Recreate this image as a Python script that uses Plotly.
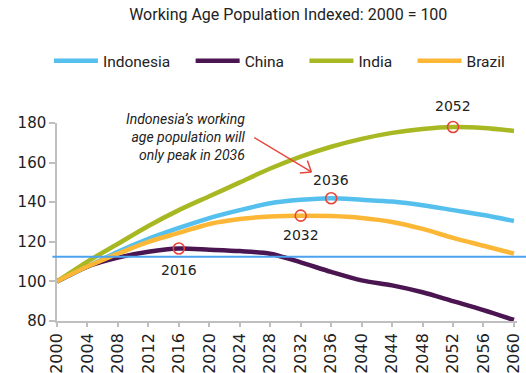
import plotly.graph_objects as go

# Working-age population, indexed to 2000 = 100
years = [2000, 2004, 2008, 2012, 2016, 2020, 2024, 2028, 2032, 2036, 2040, 2044, 2048, 2052, 2056, 2060]
indonesia = [100, 107.5, 115, 121.5, 127, 132, 136, 139.5, 141.2, 142, 141.2, 140.3, 138.5, 136, 133.5, 130.5]
china = [100, 107.5, 112, 115, 116.6, 116, 115.3, 114, 109.6, 104.8, 100.5, 98, 94.5, 90, 85.5, 80.5]
india = [100, 110, 119, 128, 136, 143, 150, 157, 163, 168, 172, 175, 177, 178, 177.5, 176]
brazil = [100, 107.5, 114, 120, 124.5, 129, 131.5, 132.8, 133.2, 133, 132, 130, 126.5, 122, 118, 114]

series_names = ["Indonesia", "China", "India", "Brazil"]
series_values = [indonesia, china, india, brazil]
series_colors = ["#55C0EE", "#4A1550", "#A8B823", "#FDB736"]

# Peak year for each series, with the label placed above or below the marker
peaks = [("China", 2016, -21), ("Brazil", 2032, -19), ("Indonesia", 2036, 18), ("India", 2052, 21)]
reference_level = 112.4

x_ticks = list(range(2000, 2061, 4))
y_ticks = [80, 100, 120, 140, 160, 180]

fig = go.Figure()

pad = "\u00a0" * 4
for i, (name, vals, col) in enumerate(zip(series_names, series_values, series_colors)):
    label = name + (pad if i < len(series_names) - 1 else "")
    fig.add_trace(go.Scatter(
        x=years, y=vals, name=label, mode="lines",
        line=dict(color=col, width=4.5, shape="spline", smoothing=0.8),
        hoverinfo="skip",
    ))

# Horizontal reference line across the plot
fig.add_shape(type="line", xref="paper", yref="y", x0=-0.01, x1=1.03,
              y0=reference_level, y1=reference_level,
              line=dict(color="#4DA2F0", width=2), layer="above")

lookup = dict(zip(series_names, series_values))
px_ = [p[1] for p in peaks]
py_ = [lookup[p[0]][years.index(p[1])] for p in peaks]
fig.add_trace(go.Scatter(
    x=px_, y=py_, mode="markers", showlegend=False, hoverinfo="skip",
    marker=dict(size=11, color="rgba(0,0,0,0)", line=dict(color="#E8463C", width=1.6)),
    cliponaxis=False,
))
for (name, yr, shift), yv in zip(peaks, py_):
    fig.add_annotation(x=yr, y=yv, text=str(yr), showarrow=False, yshift=shift,
                       font=dict(family="DejaVu Sans", size=14, color="#222222"))

# Callout text and arrow
fig.add_annotation(
    x=2024.9, y=180, xref="x", yref="y", xanchor="right", yanchor="top",
    align="right", showarrow=False, yshift=14,
    text="<i>Indonesia’s working<br>age population will<br>only peak in 2036</i>",
    font=dict(family="Roboto", size=14, color="#222222"),
)
tip_x, tip_y = 2033.4, 155.3
fig.add_annotation(
    x=tip_x, y=tip_y, ax=2025.7, ay=173.1, xref="x", yref="y", axref="x", ayref="y",
    text="", showarrow=True, arrowhead=0, arrowwidth=1.5, arrowcolor="#E8463C",
)
for dx, dy in [(-4, 11.5), (-11.5, -1)]:
    fig.add_shape(type="line", xref="x", yref="y", xsizemode="pixel", ysizemode="pixel",
                  xanchor=tip_x, yanchor=tip_y, x0=0, y0=0, x1=dx, y1=dy,
                  line=dict(color="#E8463C", width=1.5))

fig.update_layout(
    width=526, height=373,
    margin=dict(l=57, r=9, t=123, b=52),
    paper_bgcolor="white", plot_bgcolor="white",
    title=dict(text="Working Age Population Indexed: 2000 = 100", x=0.548, xanchor="center",
               y=0.962, yanchor="middle",
               font=dict(family="Roboto", size=16, color="#222222")),
    legend=dict(orientation="h", x=0.093, xref="container", xanchor="left",
                y=0.836, yref="container", yanchor="middle",
                itemwidth=44, traceorder="normal",
                font=dict(family="Roboto", size=15.5, color="#222222"),
                bgcolor="rgba(0,0,0,0)"),
    showlegend=True,
)

fig.update_xaxes(range=[2000, 2060.4], tickvals=x_ticks, ticktext=[str(t) for t in x_ticks],
                 tickangle=-90, showgrid=False, zeroline=False, automargin=False,
                 showline=True, linecolor="#BFBFBF", linewidth=1.5,
                 ticks="outside", ticklen=4, tickcolor="#BFBFBF", tickwidth=1.5,
                 tickfont=dict(family="DejaVu Sans", size=16, color="#222222"))
fig.update_yaxes(range=[80, 180], tickvals=y_ticks, showgrid=False, zeroline=False,
                 automargin=False,
                 showline=True, linecolor="#BFBFBF", linewidth=1.5,
                 ticks="outside", ticklen=6, tickcolor="#BFBFBF", tickwidth=1.5,
                 tickfont=dict(family="DejaVu Sans", size=15, color="#222222"))

fig.write_html("out.html")
